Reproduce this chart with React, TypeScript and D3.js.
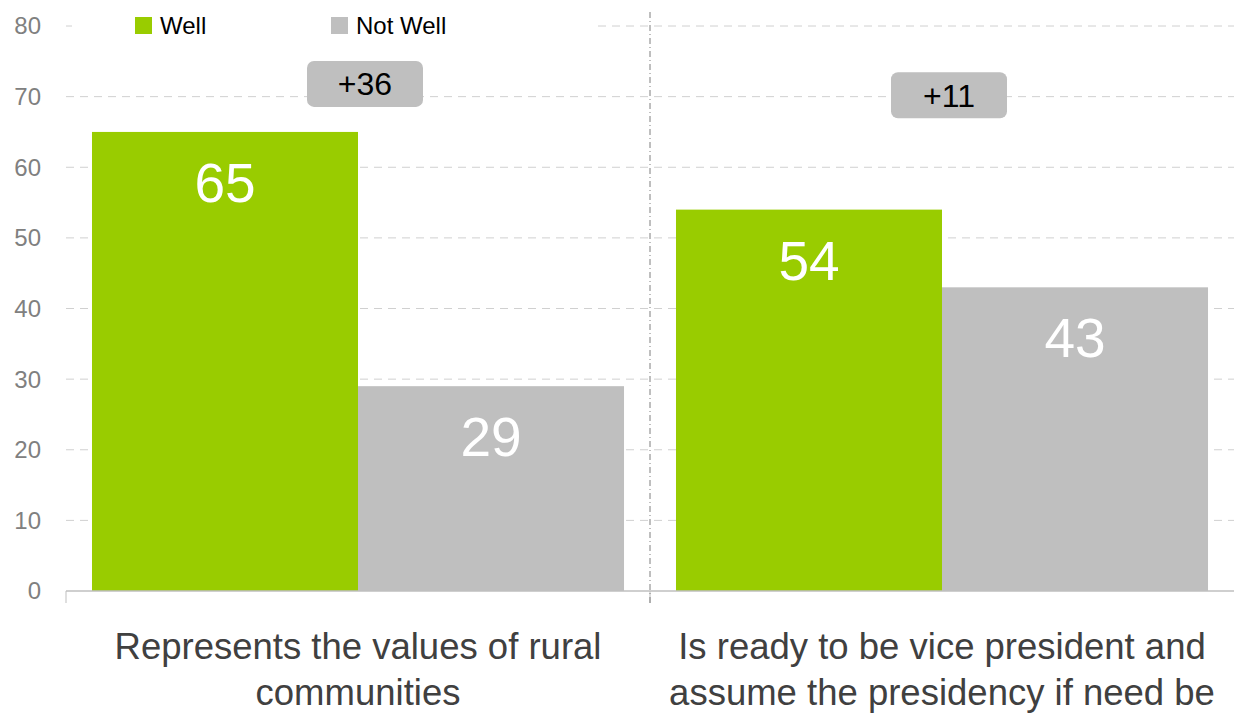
import React from "react";
import * as d3 from "d3";

// chart values
const categoryLines = [
  ["Represents the values of rural", "communities"],
  ["Is ready to be vice president and", "assume the presidency if need be"],
];
const categories = ["rural", "vp"];
const seriesNames = ["Well", "Not Well"];
const wellValues = [65, 54];
const notWellValues = [29, 43];
const gapLabels = ["+36", "+11"];
const yTicks = [0, 10, 20, 30, 40, 50, 60, 70, 80];

// layout constants
const badgeLevels = [71.8, 70.2];
const colors = ["#99CC00", "#BFBFBF"];
const width = 1234;
const height = 714;
const font = "'Liberation Sans', Arial, sans-serif";

const App = () => {
  const left = 66;
  const right = 1234;
  const baseY = 591;

  const y = d3.scaleLinear().domain([0, 80]).range([baseY, 26]);

  const x = d3
    .scaleBand<string>()
    .domain(categories)
    .range([left, right])
    .paddingInner(0.089)
    .paddingOuter(0.0445);

  const inner = d3
    .scaleBand<string>()
    .domain(seriesNames)
    .range([0, x.bandwidth()]);

  const series = [wellValues, notWellValues];
  const dividerX = (x(categories[0])! + x.bandwidth() + x(categories[1])!) / 2;

  return (
    <svg
      width={width}
      height={height}
      style={{ position: "absolute", left: 0, top: 0, background: "#fff" }}
      fontFamily={font}
    >
      {/* gridlines */}
      {yTicks.slice(1).map((t) => (
        <line
          key={t}
          x1={left}
          x2={right}
          y1={y(t)}
          y2={y(t)}
          stroke="#D0D0D0"
          strokeWidth={1}
          strokeDasharray="8,6"
        />
      ))}

      {/* y labels */}
      {yTicks.map((t) => (
        <text
          key={t}
          x={41}
          y={y(t)}
          dy="0.35em"
          textAnchor="end"
          fontSize={24}
          fill="#808080"
        >
          {t}
        </text>
      ))}

      {/* legend, white box hides the top gridline */}
      <rect x={72} y={8} width={520} height={34} fill="#fff" />
      {seriesNames.map((s, i) => (
        <g key={s} transform={`translate(${135 + i * 196},17)`}>
          <rect width={17} height={17} fill={colors[i]} />
          <text x={25} y={16.5} fontSize={24} fill="#000">
            {s}
          </text>
        </g>
      ))}

      {/* bars */}
      {categories.map((c, ci) =>
        series.map((vals, si) => {
          const bx = x(c)! + inner(seriesNames[si])!;
          const by = y(vals[ci]);
          return (
            <g key={c + si}>
              <rect
                x={bx}
                y={by}
                width={inner.bandwidth()}
                height={baseY - by}
                fill={colors[si]}
              />
              <text
                x={bx + inner.bandwidth() / 2}
                y={by + 70}
                textAnchor="middle"
                fontSize={55}
                fill="#fff"
              >
                {vals[ci]}
              </text>
            </g>
          );
        })
      )}

      {/* baseline and ticks */}
      <line x1={left} x2={right} y1={baseY} y2={baseY} stroke="#BFBFBF" strokeWidth={1.5} />
      {[left, dividerX].map((tx) => (
        <line key={tx} x1={tx} x2={tx} y1={baseY} y2={baseY + 12} stroke="#BFBFBF" strokeWidth={1} />
      ))}

      {/* divider */}
      <line
        x1={dividerX}
        x2={dividerX}
        y1={12}
        y2={606}
        stroke="#7F7F7F"
        strokeWidth={1}
        strokeDasharray="6,3,1,3"
      />

      {/* difference badges */}
      {categories.map((c, i) => {
        const cx = x(c)! + x.bandwidth() / 2 + 7;
        const cy = y(badgeLevels[i]);
        return (
          <g key={c + "badge"}>
            <rect x={cx - 58} y={cy - 23} width={116} height={46} rx={7} fill="#BFBFBF" />
            <text x={cx} y={cy} dy="0.36em" textAnchor="middle" fontSize={32} fill="#000">
              {gapLabels[i]}
            </text>
          </g>
        );
      })}

      {/* category labels */}
      {categories.map((c, i) => (
        <text
          key={c + "label"}
          x={x(c)! + x.bandwidth() / 2}
          textAnchor="middle"
          fontSize={36.5}
          fill="#404040"
        >
          {categoryLines[i].map((ln, li) => (
            <tspan key={li} x={x(c)! + x.bandwidth() / 2} y={659 + li * 46}>
              {ln}
            </tspan>
          ))}
        </text>
      ))}
    </svg>
  );
};

export default App;
